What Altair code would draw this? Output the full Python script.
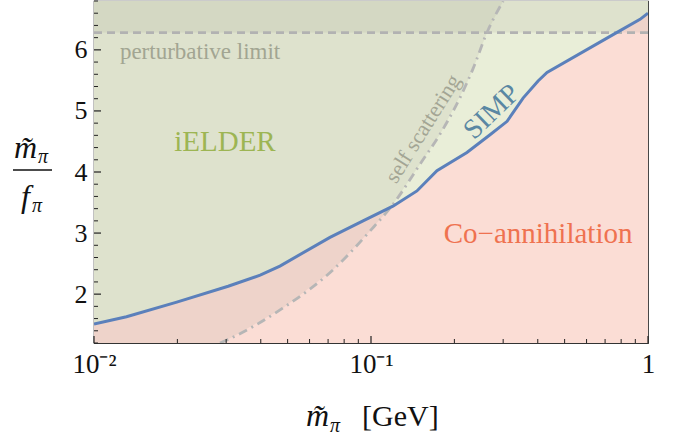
import altair as alt
import pandas as pd
import math

# SIMP boundary (blue line)
simp_x = [0.01, 0.0131, 0.0199, 0.0305, 0.0398, 0.0469, 0.0711, 0.0936, 0.120, 0.1465,
          0.173, 0.222, 0.269, 0.31, 0.354, 0.401, 0.432, 0.748, 0.936, 1.0]
simp_y = [1.51, 1.63, 1.87, 2.13, 2.31, 2.46, 2.93, 3.20, 3.44, 3.69,
          4.02, 4.32, 4.61, 4.83, 5.21, 5.49, 5.63, 6.25, 6.5, 6.6]

# self-scattering bound (dash-dot)
ss_x = [0.0285, 0.0302, 0.048, 0.073, 0.099, 0.120, 0.154, 0.1775, 0.222, 0.233, 0.262, 0.30]
ss_y = [1.2, 1.25, 1.77, 2.40, 3.03, 3.47, 4.2, 4.62, 5.46, 5.68, 6.28, 6.8]

pert_limit = 2 * math.pi

X_DOM = [0.01, 1.0]
Y_DOM = [1.2, 6.8]

x_major = [0.01, 0.1, 1.0]
x_minor = [0.02, 0.03, 0.04, 0.05, 0.06, 0.07, 0.08, 0.09,
           0.2, 0.3, 0.4, 0.5, 0.6, 0.7, 0.8, 0.9]
y_major = [2, 3, 4, 5, 6]
y_minor = [1.2, 1.4, 1.6, 1.8, 2.2, 2.4, 2.6, 2.8, 3.2, 3.4, 3.6, 3.8, 4.2, 4.4, 4.6, 4.8,
           5.2, 5.4, 5.6, 5.8, 6.2, 6.4, 6.6, 6.8]

W, H = 554, 342
FONT = "Liberation Serif"

simp = pd.DataFrame({"x": simp_x, "y": simp_y})
ss = pd.DataFrame({"x": ss_x, "y": ss_y})
ss_fill = pd.DataFrame({"x": [X_DOM[0]] + ss_x, "y": [Y_DOM[0]] + ss_y})
one = pd.DataFrame({"k": [0]})

xs = alt.Scale(type="log", domain=X_DOM, nice=False)
ys = alt.Scale(domain=Y_DOM, nice=False, zero=False)

xaxis = alt.Axis(values=x_major, ticks=False, domain=False, grid=False, title=None,
                 labelExpr="datum.value < 0.05 ? '10⁻²' : datum.value < 0.5 ? '10⁻¹' : '1'",
                 labelFont=FONT, labelFontSize=27, labelColor="#111", labelPadding=8,
                 labelFlush=False, labelOverlap=False)
yaxis = alt.Axis(values=y_major, ticks=False, domain=False, grid=False, title=None,
                 labelExpr="format(datum.value, 'd')", labelFlush=False,
                 labelFont=FONT, labelFontSize=26, labelColor="#111", labelPadding=7)

base = alt.Chart(simp)

green = base.mark_area(color="#e9eed8", clip=True).encode(
    x=alt.X("x:Q", scale=xs, axis=xaxis),
    y=alt.Y("y:Q", scale=ys, axis=yaxis),
    y2=alt.datum(Y_DOM[1]),
)
pink = base.mark_area(color="#fbddd5", clip=True).encode(
    x=alt.X("x:Q", scale=xs), y=alt.Y("y:Q", scale=ys), y2=alt.datum(Y_DOM[0]))

ss_shade = alt.Chart(ss_fill).mark_area(color="#808070", opacity=0.1, clip=True).encode(
    x=alt.X("x:Q", scale=xs), y=alt.Y("y:Q", scale=ys), y2=alt.datum(Y_DOM[1]))

pert_shade = alt.Chart(pd.DataFrame({"y": [pert_limit]})).mark_rect(
    color="#808070", opacity=0.1, clip=True).encode(
    x=alt.datum(X_DOM[0]), x2=alt.datum(X_DOM[1]),
    y=alt.Y("y:Q", scale=ys), y2=alt.datum(Y_DOM[1]))

pert_line = alt.Chart(pd.DataFrame({"y": [pert_limit]})).mark_rule(
    color="#b2b2b2", strokeWidth=2.8, strokeDash=[8, 5], clip=True).encode(
    x=alt.datum(X_DOM[0]), x2=alt.datum(X_DOM[1]), y=alt.Y("y:Q", scale=ys))

ss_line = alt.Chart(ss).mark_line(color="#b6b6b6", strokeWidth=2.8, interpolate="monotone",
                                  strokeDash=[9, 5, 2, 5], clip=True).encode(
    x=alt.X("x:Q", scale=xs), y=alt.Y("y:Q", scale=ys))

simp_line = base.mark_line(color="#5b80bb", strokeWidth=3, clip=True).encode(
    x=alt.X("x:Q", scale=xs), y=alt.Y("y:Q", scale=ys))


def label(text, x, y, color, size, angle=0, align="center"):
    return alt.Chart(one).mark_text(text=text, color=color, font=FONT, fontSize=size,
                                    angle=angle, align=align, baseline="middle").encode(
        x=alt.datum(x), y=alt.datum(y))


labels = [
    label("perturbative limit", 0.0124, 5.97, "#a2a592", 23, align="left"),
    label("iELDER", 0.0297, 4.49, "#9db553", 29),
    label("SIMP", 0.2735, 4.98, "#5a87a3", 28, angle=316),
    label("self scattering", 0.154, 4.71, "#a3a594", 22, angle=302),
    label("Co−annihilation", 0.401, 2.98, "#ef7250", 29),
]

tick_col = "#222"
xmaj = alt.Chart(pd.DataFrame({"v": x_major})).mark_rule(color=tick_col, strokeWidth=1.2).encode(
    x=alt.X("v:Q", scale=xs), y=alt.value(H), y2=alt.value(H - 7))
xmin = alt.Chart(pd.DataFrame({"v": x_minor})).mark_rule(color=tick_col, strokeWidth=1).encode(
    x=alt.X("v:Q", scale=xs), y=alt.value(H), y2=alt.value(H - 4))
ymaj = alt.Chart(pd.DataFrame({"v": y_major})).mark_rule(color=tick_col, strokeWidth=1.2).encode(
    y=alt.Y("v:Q", scale=ys), x=alt.value(0), x2=alt.value(7))
ymin = alt.Chart(pd.DataFrame({"v": y_minor})).mark_rule(color=tick_col, strokeWidth=1).encode(
    y=alt.Y("v:Q", scale=ys), x=alt.value(0), x2=alt.value(4))


def ptext(text, px, py, size, style="normal", align="left"):
    return alt.Chart(one).mark_text(text=text, font=FONT, fontSize=size, fontStyle=style,
                                    color="#111", align=align, baseline="alphabetic").encode(
        x=alt.value(px - 94), y=alt.value(py - 1))


titles = [
    # x title
    ptext("m\u0303", 306, 426, 32, "italic"),
    ptext("π", 330, 432, 20, "italic"),
    ptext("[GeV]", 362, 426, 30),
    # y title (fraction)
    ptext("m\u0303", 14, 158, 32, "italic"),
    ptext("π", 38, 163, 20, "italic"),
    ptext("f", 21, 207, 32, "italic"),
    ptext("π", 32, 212, 20, "italic"),
]
frac = alt.Chart(one).mark_rule(color="#111", strokeWidth=1.3).encode(
    x=alt.value(13 - 94), x2=alt.value(52 - 94), y=alt.value(169))

chart = alt.layer(
    green, pink, ss_shade, pert_shade, pert_line, ss_line, simp_line,
    *labels, xmaj, xmin, ymaj, ymin, *titles, frac
).properties(
    width=W, height=H,
    autosize=alt.AutoSizeParams(type="none"),
    padding={"left": 94, "top": 1, "right": 33, "bottom": 96},
).configure_view(stroke="#333", strokeWidth=1.2)

chart.save("out.html", embed_options={"renderer": "svg", "actions": False})
